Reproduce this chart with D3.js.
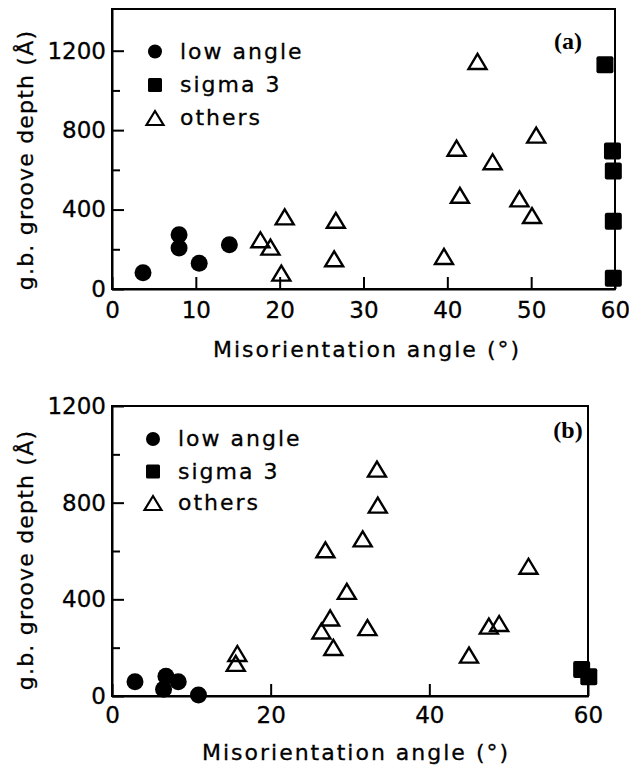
<!DOCTYPE html>
<html>
<head>
<meta charset="utf-8">
<script src="https://cdn.jsdelivr.net/npm/d3@7"></script>
<style>
  body { margin: 0; background: #fff; }
  svg { display: block; }
  .axis path, .axis line { stroke: #000; stroke-width: 2; }
  .axis text { font-family: 'DejaVu Sans', sans-serif; font-size: 23px; fill: #000; stroke: #000; stroke-width: 0.3px; }
  .title { font-family: 'DejaVu Sans', sans-serif; font-size: 22px; fill: #000; stroke: #000; stroke-width: 0.3px; }
  .legend text { font-family: 'DejaVu Sans', sans-serif; font-size: 22px; letter-spacing: 2px; fill: #000; stroke: #000; stroke-width: 0.3px; }
  .tag { font-family: 'Liberation Serif', serif; font-weight: bold; font-size: 24px; fill: #000; }
</style>
</head>
<body>
<div id="chart"></div>
<script>
// panel (a)
const lowAngleAx = [3.7, 8.0, 8.0, 10.4, 14.0];
const lowAngleAy = [82, 273, 206, 130, 223];
const sigma3Ax = [58.8, 59.7, 59.8, 59.8, 59.8];
const sigma3Ay = [1129, 695, 594, 341, 54];
const othersAx = [17.7, 18.9, 20.6, 20.2, 26.7, 26.5, 39.6, 41.5, 41.1, 45.4, 48.6, 50.1, 50.6, 43.6];
const othersAy = [248, 211, 363, 80, 346, 152, 164, 472, 709, 641, 454, 370, 775, 1146];

// panel (b)
const lowAngleBx = [2.9, 6.8, 8.35, 6.5, 10.9];
const lowAngleBy = [59, 82, 59, 28, 4];
const sigma3Bx = [59.2, 60.1];
const sigma3By = [110, 80];
const othersBx = [15.8, 15.6, 26.4, 26.9, 27.5, 27.9, 29.6, 31.6, 32.2, 33.4, 33.5, 45.0, 47.5, 48.8, 52.5];
const othersBy = [176, 135, 269, 605, 323, 201, 433, 650, 283, 939, 790, 169, 289, 300, 537];

const legendLabels = ['low angle', 'sigma 3', 'others'];
const yMajorTicks = [0, 400, 800, 1200];
const yMinorTicks = [200, 600, 1000];
const xTicksA = [0, 10, 20, 30, 40, 50, 60];
const xTicksB = [0, 20, 40, 60];

const translation = function(x, y) {
  return 'translate(' + x + ',' + y + ')';
};

const zip = (xs, ys) => xs.map((x, i) => ({ x: x, y: ys[i] }));

const svg = d3.select('#chart').append('svg')
  .attr('width', 629)
  .attr('height', 770);

svg.append('rect').attr('width', 629).attr('height', 770).attr('fill', '#fff');

const triPath = function(cx, cy, w, h) {
  return 'M' + (cx - w / 2) + ',' + (cy + h / 2) + 'L' + (cx + w / 2) + ',' + (cy + h / 2) +
    'L' + cx + ',' + (cy - h / 2) + 'Z';
};

function drawPanel(p) {
  const x = d3.scaleLinear().domain([0, 60]).range([p.left, p.right]);
  const y = d3.scaleLinear().domain([0, p.yMax]).range([p.bottom, p.top]);
  const g = svg.append('g');

  // frame
  g.append('rect')
    .attr('x', p.left).attr('y', p.top)
    .attr('width', p.right - p.left).attr('height', p.bottom - p.top)
    .attr('fill', 'none').attr('stroke', '#000').attr('stroke-width', 2);

  // y axis, ticks pointing inward
  g.append('g')
    .attr('class', 'axis')
    .attr('transform', translation(p.left, 0))
    .call(d3.axisLeft(y).tickValues(yMajorTicks).tickFormat(d3.format('d'))
      .tickSize(-12).tickSizeOuter(0).tickPadding(6));

  g.append('g')
    .attr('class', 'axis minor')
    .attr('transform', translation(p.left, 0))
    .call(d3.axisLeft(y).tickValues(yMinorTicks).tickSize(-8).tickSizeOuter(0).tickFormat(''))
    .select('.domain').remove();

  const xAxis = g.append('g')
    .attr('class', 'axis')
    .attr('transform', translation(0, p.bottom))
    .call(d3.axisBottom(x).tickValues(p.xTicks).tickFormat(d3.format('d'))
      .tickSize(-12).tickSizeOuter(0).tickPadding(p.xPad));
  xAxis.selectAll('text').attr('dy', '0.71em');

  // axis titles
  g.append('text')
    .attr('class', 'title')
    .attr('x', p.xTitleX).attr('y', p.xTitleY)
    .attr('text-anchor', 'middle')
    .style('letter-spacing', '2px')
    .text('Misorientation angle (°)');

  g.append('text')
    .attr('class', 'title')
    .attr('transform', translation(p.yTitleX, p.yTitleY) + 'rotate(-90)')
    .attr('text-anchor', 'middle')
    .style('letter-spacing', '1.2px')
    .text('g.b. groove depth (Å)');

  g.append('text')
    .attr('class', 'tag')
    .attr('x', p.tagX).attr('y', p.tagY)
    .attr('text-anchor', 'middle')
    .text(p.tag);

  // data
  g.selectAll('circle.low')
    .data(zip(p.lowX, p.lowY))
    .enter().append('circle')
    .attr('class', 'low')
    .attr('cx', d => x(d.x))
    .attr('cy', d => y(d.y))
    .attr('r', 8.5)
    .attr('fill', '#000');

  g.selectAll('rect.sigma')
    .data(zip(p.sigX, p.sigY))
    .enter().append('rect')
    .attr('class', 'sigma')
    .attr('x', d => x(d.x) - 8.5)
    .attr('y', d => y(d.y) - 8.5)
    .attr('width', 17)
    .attr('height', 17)
    .attr('rx', 2)
    .attr('fill', '#000');

  g.selectAll('path.other')
    .data(zip(p.othX, p.othY))
    .enter().append('path')
    .attr('class', 'other')
    .attr('d', d => triPath(x(d.x), y(d.y), 18, 15))
    .attr('fill', 'none')
    .attr('stroke', '#000')
    .attr('stroke-width', 2.4)
    .attr('stroke-linejoin', 'miter');

  // legend
  const lg = g.append('g').attr('class', 'legend');
  lg.append('circle')
    .attr('cx', p.legX).attr('cy', p.legY[0]).attr('r', 7).attr('fill', '#000');
  lg.append('rect')
    .attr('x', p.legX - 7).attr('y', p.legY[1] - 7)
    .attr('width', 14).attr('height', 14).attr('rx', 1.5).attr('fill', '#000');
  lg.append('path')
    .attr('d', triPath(p.legX, p.legY[2], 17, 14))
    .attr('fill', 'none').attr('stroke', '#000').attr('stroke-width', 2.2);
  lg.selectAll('text')
    .data(legendLabels)
    .enter().append('text')
    .attr('x', p.legX + 25)
    .attr('y', (d, i) => p.legY[i] + 7)
    .text(d => d);
}

drawPanel({
  left: 112, right: 615, top: 9, bottom: 289, yMax: 1410,
  xTicks: xTicksA, xPad: 13,
  xTitleX: 367, xTitleY: 357,
  yTitleX: 33, yTitleY: 160,
  tag: '(a)', tagX: 568, tagY: 49,
  legX: 155, legY: [51.5, 85, 118],
  lowX: lowAngleAx, lowY: lowAngleAy,
  sigX: sigma3Ax, sigY: sigma3Ay,
  othX: othersAx, othY: othersAy,
});

drawPanel({
  left: 112, right: 588, top: 406, bottom: 696, yMax: 1200,
  xTicks: xTicksB, xPad: 11,
  xTitleX: 356, xTitleY: 760,
  yTitleX: 33, yTitleY: 560,
  tag: '(b)', tagX: 568, tagY: 438,
  legX: 153, legY: [439, 471.5, 503],
  lowX: lowAngleBx, lowY: lowAngleBy,
  sigX: sigma3Bx, sigY: sigma3By,
  othX: othersBx, othY: othersBy,
});
</script>
</body>
</html>
